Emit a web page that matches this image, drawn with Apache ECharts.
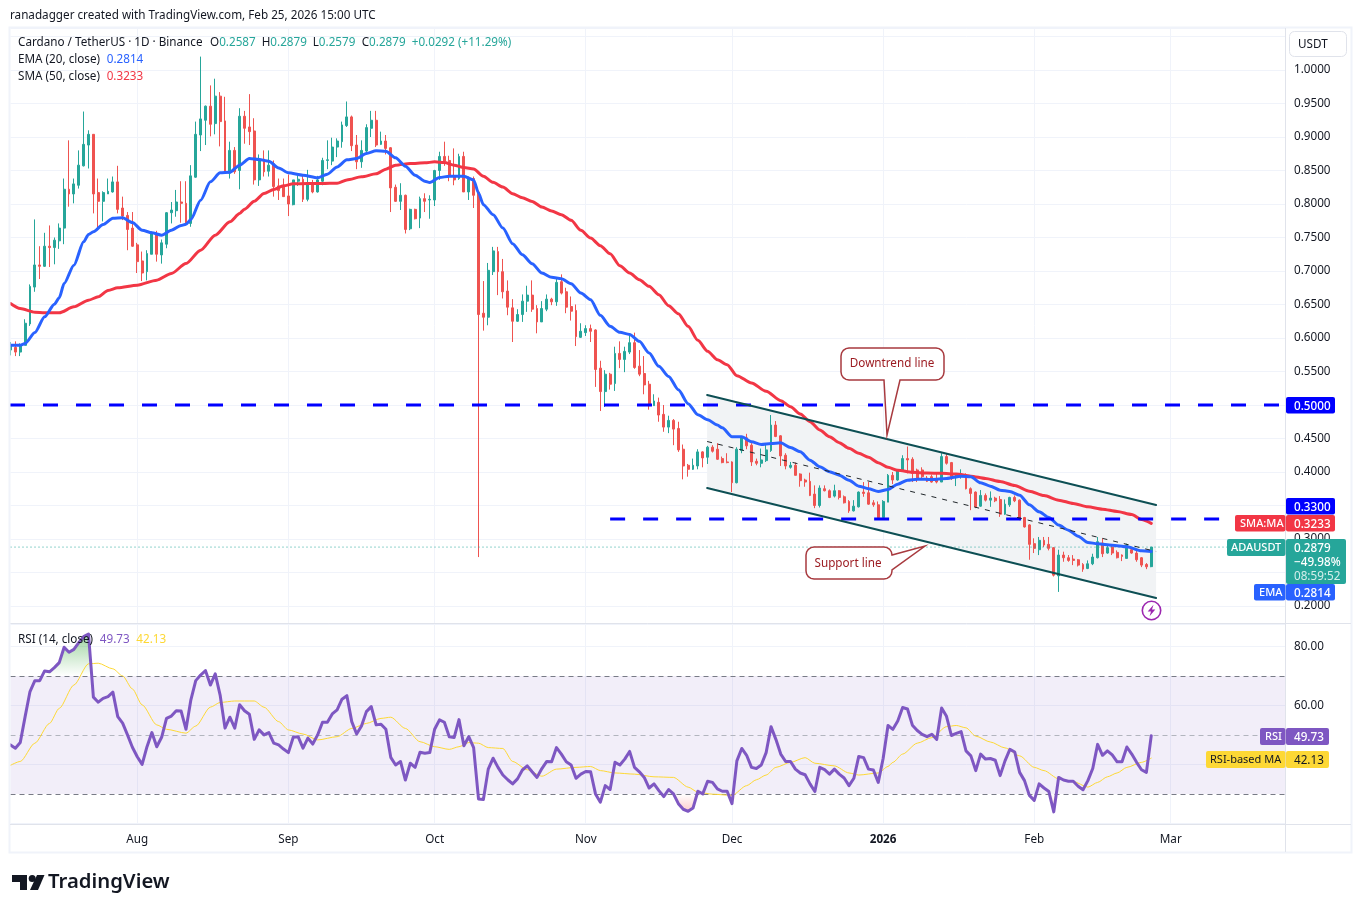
<!DOCTYPE html>
<html><head><meta charset="utf-8"><title>ADAUSDT</title>
<style>html,body{margin:0;padding:0;background:#fff}#c{width:1361px;height:912px}</style>
<script src="https://cdn.jsdelivr.net/npm/echarts@6/dist/echarts.min.js"></script></head>
<body><div id="c"></div>
<script>
// Daily candles, day 0 = 6 Jul 2025, each row is [open, close, low, high]
const candlesJul=[[.582,.589,.574,.594],[.586,.579,.573,.595],[.579,.589,.573,.592],[.589,.622,.589,.628],[.621,.677,.618,.680],[.676,.709,.669,.777],[.709,.707,.688,.737],[.707,.737,.706,.757],[.737,.735,.706,.768],[.735,.746,.710,.750],[.745,.764,.733,.771],[.764,.822,.740,.838],[.822,.815,.796,.895],[.815,.830,.801,.838],[.828,.858,.823,.880],[.857,.889,.856,.938],[.888,.904,.853,.910],[.904,.815,.786,.904],[.817,.804,.761,.838],[.804,.817,.774,.819],[.815,.819,.815,.838],[.818,.833,.817,.841],[.833,.792,.786,.857],[.794,.782,.776,.811],[.783,.762,.731,.788],[.764,.737,.736,.788]];
const candlesAug=[[.739,.714,.697,.742],[.715,.697,.685,.729],[.699,.726,.686,.731],[.725,.756,.725,.759],[.756,.725,.714,.760],[.724,.742,.711,.747],[.740,.787,.734,.788],[.787,.791,.771,.803],[.790,.803,.781,.821],[.803,.801,.772,.834],[.801,.770,.768,.834],[.771,.842,.766,.858],[.840,.904,.839,.923],[.903,.927,.879,1.020],[.925,.946,.888,.947],[.946,.919,.901,.977],[.920,.961,.904,.987],[.961,.923,.886,.967],[.924,.846,.845,.960],[.846,.880,.838,.893],[.880,.848,.845,.885],[.850,.931,.822,.943],[.931,.913,.890,.939],[.915,.908,.888,.964],[.909,.836,.829,.928],[.836,.867,.827,.874],[.867,.848,.841,.880],[.849,.858,.841,.880],[.860,.826,.811,.865],[.827,.820,.806,.838],[.826,.811,.811,.838]];
const candlesSep=[[.812,.800,.782,.844],[.799,.836,.798,.836],[.834,.837,.827,.843],[.837,.807,.803,.843],[.807,.832,.804,.851],[.832,.818,.816,.836],[.818,.836,.817,.842],[.834,.865,.828,.869],[.865,.866,.852,.895],[.864,.885,.858,.899],[.885,.894,.870,.898],[.893,.918,.884,.923],[.917,.930,.915,.953],[.930,.887,.879,.932],[.888,.863,.852,.903],[.863,.880,.854,.895],[.879,.914,.874,.919],[.913,.925,.900,.939],[.925,.888,.885,.939],[.889,.894,.888,.908],[.894,.883,.874,.903],[.884,.824,.788,.885],[.825,.804,.803,.829],[.804,.813,.791,.831],[.813,.762,.756,.814],[.763,.792,.761,.793],[.792,.778,.777,.793],[.779,.808,.764,.811],[.808,.804,.788,.816],[.806,.807,.778,.813]];
const candlesOct=[[.806,.850,.797,.851],[.850,.871,.836,.878],[.871,.864,.857,.893],[.865,.841,.834,.872],[.841,.836,.828,.883],[.838,.871,.836,.875],[.871,.818,.818,.878],[.818,.838,.806,.841],[.838,.813,.794,.841],[.818,.635,.273,.820],[.637,.631,.611,.685],[.631,.701,.619,.712],[.699,.730,.694,.736],[.729,.699,.664,.736],[.699,.669,.659,.718],[.670,.646,.634,.686],[.645,.625,.594,.658],[.625,.635,.624,.643],[.635,.655,.624,.665],[.655,.664,.639,.678],[.664,.643,.639,.686],[.644,.624,.607,.649],[.624,.644,.624,.655],[.643,.658,.640,.665],[.658,.654,.649,.660],[.654,.683,.648,.689],[.684,.667,.665,.695],[.669,.646,.637,.675],[.647,.640,.626,.662],[.641,.602,.588,.650],[.601,.610,.600,.622]];
const candlesNov=[[.608,.614,.603,.619],[.614,.610,.594,.620],[.612,.553,.527,.613],[.555,.520,.491,.566],[.520,.546,.497,.552],[.546,.531,.523,.548],[.532,.577,.521,.587],[.577,.568,.555,.595],[.568,.580,.549,.587],[.579,.593,.576,.604],[.593,.556,.554,.608],[.558,.546,.543,.582],[.547,.530,.516,.573],[.531,.499,.493,.536],[.499,.506,.499,.516],[.504,.485,.475,.511],[.486,.467,.460,.500],[.467,.477,.458,.484],[.477,.464,.440,.479],[.465,.433,.430,.475],[.434,.409,.389,.441],[.410,.404,.393,.412],[.404,.410,.403,.420],[.409,.430,.404,.434],[.430,.421,.407,.431],[.422,.437,.412,.439],[.437,.431,.429,.440],[.434,.419,.418,.443],[.420,.414,.413,.423],[.415,.414,.413,.428]];
const candlesDec=[[.415,.384,.370,.416],[.384,.434,.383,.437],[.432,.451,.428,.453],[.451,.439,.434,.457],[.440,.415,.409,.443],[.416,.413,.410,.420],[.413,.418,.407,.435],[.417,.433,.415,.443],[.432,.470,.430,.485],[.470,.453,.452,.476],[.454,.424,.409,.455],[.425,.409,.404,.428],[.407,.410,.405,.415],[.410,.395,.395,.414],[.397,.387,.378,.398],[.388,.385,.378,.390],[.386,.365,.364,.399],[.367,.350,.346,.380],[.350,.376,.347,.380],[.375,.372,.371,.380],[.372,.362,.361,.374],[.364,.372,.362,.381],[.372,.362,.359,.373],[.363,.354,.353,.365],[.356,.342,.339,.358],[.342,.349,.341,.358],[.348,.370,.347,.371],[.370,.368,.363,.385],[.369,.352,.351,.385],[.354,.351,.348,.358],[.351,.332,.329,.356]];
const candlesJan=[[.332,.356,.332,.358],[.355,.395,.355,.397],[.395,.388,.382,.400],[.388,.403,.387,.404],[.402,.420,.400,.425],[.420,.418,.398,.438],[.419,.398,.385,.422],[.403,.389,.385,.405],[.403,.393,.389,.407],[.391,.386,.385,.394],[.393,.385,.384,.396],[.390,.385,.383,.398],[.385,.423,.385,.428],[.423,.413,.411,.428],[.414,.393,.388,.415],[.394,.396,.379,.398],[.393,.396,.390,.404],[.396,.375,.374,.398],[.375,.368,.343,.377],[.370,.348,.346,.371],[.349,.365,.348,.373],[.365,.358,.356,.368],[.358,.361,.348,.371],[.361,.357,.355,.363],[.359,.337,.333,.364],[.337,.352,.336,.359],[.351,.362,.348,.363],[.362,.357,.355,.365],[.358,.331,.328,.359],[.332,.318,.317,.333],[.321,.292,.269,.322]];
const candlesFeb=[[.293,.286,.279,.301],[.284,.298,.276,.303],[.298,.291,.288,.303],[.292,.286,.283,.303],[.287,.246,.244,.288],[.245,.276,.221,.284],[.276,.272,.266,.281],[.272,.268,.266,.276],[.270,.268,.261,.276],[.269,.261,.259,.270],[.262,.255,.251,.264],[.256,.263,.255,.268],[.263,.273,.261,.278],[.272,.296,.271,.303],[.294,.278,.273,.301],[.279,.287,.278,.291],[.288,.279,.276,.291],[.280,.272,.271,.283],[.276,.274,.267,.277],[.271,.291,.271,.293],[.284,.279,.278,.288],[.279,.269,.266,.283],[.272,.261,.258,.273],[.262,.2585,.255,.264],[.2587,.2879,.2579,.2879]];
// EMA 20 and SMA 50, [day, price]
const ema20=[[0,.5893],[2,.5893],[3,.5918],[5,.6082],[7,.6316],[9,.6505],[10,.66],[11,.6814],[13,.7087],[15,.7435],[16,.7545],[17,.7585],[19,.7694],[21,.7789],[23,.7794],[25,.7724],[27,.7609],[29,.757],[31,.7535],[33,.7609],[35,.7679],[36,.7699],[37,.7769],[39,.8057],[41,.8331],[43,.8465],[45,.8475],[47,.858],[49,.8679],[51,.8664],[53,.8639],[55,.8539],[57,.8465],[60,.843],[63,.839],[65,.8445],[67,.8554],[69,.8659],[71,.8679],[73,.8753],[75,.8793],[77,.8788],[79,.8689],[81,.8564],[83,.843],[85,.834],[86,.8321],[88,.8395],[90,.8415],[93,.8415],[95,.836],[96,.8164],[97,.799],[99,.784],[101,.7641],[103,.7408],[105,.7243],[107,.7109],[109,.697],[111,.6905],[113,.6885],[115,.6811],[117,.6671],[119,.6572],[121,.6338],[123,.6174],[125,.6084],[127,.6054],[129,.595],[131,.5776],[133,.5577],[135,.5427],[137,.5228],[139,.502],[141,.4855],[143,.4781],[145,.47],[146,.466],[148,.4525],[150,.4525],[152,.445],[154,.4411],[156,.4426],[158,.4435],[160,.4366],[162,.4301],[164,.4177],[166,.4077],[168,.4003],[170,.3953],[172,.3878],[174,.3789],[176,.3749],[178,.3709],[180,.3739],[182,.3818],[184,.3878],[186,.3893],[189,.3888],[192,.3903],[195,.3938],[197,.3928],[199,.3838],[201,.3789],[203,.3729],[205,.3709],[207,.3654],[209,.351],[211,.3406],[213,.3321],[215,.3207],[217,.3132],[219,.3042],[221,.2948],[223,.2928],[226,.2908],[229,.2883],[232,.2824],[234,.2814]];
const sma50=[[0,.6515],[2,.644],[5,.6386],[7,.6376],[10,.6376],[13,.6465],[16,.6565],[18,.6614],[20,.6709],[22,.6749],[26,.6789],[30,.6863],[33,.6963],[36,.7112],[39,.7311],[42,.7535],[45,.7734],[47,.7858],[48,.7923],[50,.8042],[52,.8156],[54,.8216],[56,.8271],[58,.8301],[61,.8306],[64,.8306],[67,.8311],[69,.836],[72,.8405],[75,.845],[77,.852],[79,.8579],[82,.8604],[85,.8614],[87,.8629],[89,.8619],[91,.8579],[93,.8544],[95,.8522],[97,.8413],[99,.8323],[101,.8253],[103,.8154],[105,.8094],[107,.8039],[109,.7955],[111,.7895],[113,.784],[115,.7756],[117,.7607],[119,.7492],[121,.7378],[123,.7258],[125,.7079],[127,.697],[129,.687],[131,.6771],[133,.6646],[135,.6482],[137,.6363],[139,.6174],[141,.5965],[143,.5801],[145,.5676],[147,.5602],[149,.5437],[152,.5328],[155,.5204],[158,.5065],[160,.4975],[162,.4866],[164,.4751],[166,.4627],[168,.4527],[170,.4438],[172,.4353],[174,.4279],[176,.4219],[178,.4139],[180,.407],[182,.4025],[185,.3995],[188,.3985],[191,.398],[194,.397],[197,.3938],[200,.3903],[203,.3858],[206,.3799],[209,.3714],[212,.3649],[215,.358],[218,.353],[221,.348],[224,.3445],[227,.3411],[230,.3366],[232,.3291],[234,.3233]];
// RSI (14) one value per day
const rsi14=[46.6,45.5,47.4,56.2,64.7,68.4,68.4,71.7,71.4,72.8,74.5,79.7,78,79,81.3,83.3,84.2,62.8,61.1,62.4,63,64.5,56.2,54,50,45.8,42.6,40,46,50.8,46,49.2,55.6,56.4,58.2,58.1,51.9,61.9,68.4,70.3,71.8,66.9,70.7,63.5,52.3,56,52.3,60.2,58.2,57,48.5,51.7,50,50.8,47.2,46.6,45.2,44,49.2,49.4,45.5,48.9,46.9,50,54.3,54.3,57.1,58.5,62.1,63.3,54.5,50.3,53,57.9,59.6,53.4,53.6,51.9,42.4,39.8,41,34.7,40.4,39,44.1,43.8,44,51.9,55.1,54.3,49.4,49.1,55.2,46.3,49.4,45.7,28.3,28.1,38.4,42.1,39,36.4,34.8,33.4,35.1,38.1,39.5,37.5,35.6,38.6,41,40.9,45.7,43.5,40.9,39.8,35.3,36.7,37.6,37.5,30,27.2,32.8,31.5,40.7,39.8,41.8,44.4,39,37.5,35.6,32,33.4,31.1,29.1,31.5,30,26.7,24.8,24.1,25.2,30.9,30,34.3,33.9,31.7,30.9,30.9,26.7,41.2,45.4,43.1,39,38.6,39.8,44,52.8,48.5,43.5,41,41,38.4,37.1,36.5,33.4,30.8,39,38.2,36.7,38.4,36.7,35.4,32.8,35.3,42.7,42.3,38.4,38.1,33.9,42,53.2,51.9,54.7,59.3,58.8,53.3,51.5,50.2,49.4,50.2,48.5,59.1,56.3,49.8,50.5,51.1,44.6,42.9,37.9,43.5,41.8,42,41.4,36.2,41.2,45.1,44.2,37.3,34.5,29.5,27.8,33.4,32,30.8,23.9,35.6,34.7,34.3,34.3,32.6,31.4,34.5,38.6,46.8,43.1,44.6,43.2,40.9,40.9,45.9,43.5,40.7,38.2,37.3,49.73];
// RSI-based MA, [day, value]
const rsiMA=[[0,39.7],[2,41],[5,47.2],[8,53.9],[10,59],[13,66.9],[16,74.1],[18,74.3],[21,72.4],[23,70],[25,65.6],[27,60.2],[30,53.4],[32,51.9],[36,50.6],[38,53],[41,59.4],[43,61],[46,61.5],[50,61.5],[52,59.4],[55,54.5],[57,51.7],[60,50.3],[63,48.3],[67,49.4],[70,52.2],[73,53.9],[76,55.6],[78,56],[81,52.2],[84,47.7],[87,46],[90,45.1],[92,46],[94,47.4],[96,47.2],[98,45.7],[101,45.4],[103,41],[106,38.2],[109,36],[112,38.4],[116,39],[119,39.3],[121,37.9],[124,37.1],[128,36.7],[132,35.8],[136,35.6],[139,32.3],[141,30.6],[144,29.9],[148,29.5],[151,32.8],[153,34.8],[155,36.4],[157,39],[160,40.7],[163,42.3],[165,40.4],[169,39.5],[172,37.1],[174,36.4],[178,37.1],[180,39.3],[181,40.7],[183,43.5],[186,47.2],[189,49.1],[192,52.8],[194,53.2],[196,52.4],[198,49.6],[201,47.6],[204,45.6],[207,42.9],[210,39],[212,37.9],[215,35.1],[218,34.2],[221,32.3],[223,33.9],[225,35.8],[227,37.1],[229,39],[232,40.7],[234,42.13]];
// Drawn levels and channel, in day / price
const resistance50=[[-0.1,.5],[261.4,.5]];
const level33=[[123,.33],[250,.33]];
const channelTop=[[142.9,.5149],[235,.3507]];
const channelBottom=[[142.9,.3761],[235,.2119]];
const channelMid=[[142.9,.4455],[235,.2813]];
const lastPrice=.2879;
// Tick labels
const monthDays=[26,57,87,118,148,179,210,238];
const monthNames=['Aug','Sep','Oct','Nov','Dec','2026','Feb','Mar'];
const priceTicks=[.2,.25,.3,.35,.4,.45,.5,.55,.6,.65,.7,.75,.8,.85,.9,.95,1];
const rsiTicks=[40,60,80];

const candles=[...candlesJul,...candlesAug,...candlesSep,...candlesOct,...candlesNov,...candlesDec,...candlesJan,...candlesFeb];
const UI='"Noto Sans",sans-serif';
const FS=11.7;
const GRID='#f0f3fa',AX='#e0e3eb',TXT='#131722',UP='#26a69a',DN='#ef5350',BLUE='#2962ff',RED='#f23645',PUR='#7e57c2',YEL='#fdd835';
const XMAX=261.436;

const lineS=(name,data,color,width,extra,grid)=>Object.assign({name,type:'line',data,xAxisIndex:grid||0,yAxisIndex:grid||0,showSymbol:false,symbol:'none',silent:true,lineStyle:{color,width,cap:'round',join:'round'},z:5},extra||{});

const tag=(x,y,w,h,fill)=>({type:'rect',z:120,shape:{x,y,width:w,height:h,r:2},style:{fill}});
const tagText=(x,y,text,color,w,size)=>({type:'text',z:121,x,y:y+1.3,style:{text,fill:color,font:(w||'500')+' '+(size||FS)+'px '+UI,textVerticalAlign:'middle'}});
const plainText=(x,y,text)=>({type:'text',z:110,x,y,style:{text,fill:TXT,font:FS+'px '+UI,textVerticalAlign:'middle'}});
const rule=(x1,y1,x2,y2)=>({type:'line',z:95,shape:{x1,y1,x2,y2},style:{stroke:AX,lineWidth:1}});

// Rounded speech bubble outline with a pointer spliced into it
function bubble(x0,y0,x1,y1,r,insertAfterCorner,pointer){
  const cs=[[x1-r,y0+r,-90],[x1-r,y1-r,0],[x0+r,y1-r,90],[x0+r,y0+r,180]];
  const pts=[];
  cs.forEach((c,k)=>{
    for(let a=0;a<=4;a++){const t=(c[2]+a*22.5)*Math.PI/180;pts.push([c[0]+r*Math.cos(t),c[1]+r*Math.sin(t)]);}
    if(k===insertAfterCorner)pointer.forEach(p=>pts.push(p));
  });
  return pts;
}

const legendRich={a:{fill:TXT,font:FS+'px '+UI},g:{fill:UP,font:FS+'px '+UI},b:{fill:BLUE,font:FS+'px '+UI},r:{fill:RED,font:FS+'px '+UI},p:{fill:PUR,font:FS+'px '+UI},y:{fill:YEL,font:FS+'px '+UI}};
const legendText=(x,y,text)=>({type:'text',z:110,x,y,style:{text,textVerticalAlign:'middle',rich:legendRich}});

const graphic=[
  {type:'rect',z:90,shape:{x:9.5,y:27.5,width:1342,height:825},style:{fill:'none',stroke:GRID,lineWidth:2},silent:true},
  rule(1285.5,28,1285.5,852),rule(1285.5,623.5,1351,623.5),rule(10,824.5,1351,824.5),
  plainText(10,16,'ranadagger created with TradingView.com, Feb 25, 2026 15:00 UTC'),
  legendText(18,42.5,'{a|Cardano / TetherUS · 1D · Binance}'),
  legendText(210,42.5,'{a|O}{g|0.2587}'),legendText(261.7,42.5,'{a|H}{g|0.2879}'),legendText(312.7,42.5,'{a|L}{g|0.2579}'),legendText(361.7,42.5,'{a|C}{g|0.2879}'),legendText(411.7,42.5,'{g|+0.0292 (+11.29%)}'),
  legendText(18,59.5,'{a|EMA (20, close)}  {b|0.2814}'),
  legendText(18,76.5,'{a|SMA (50, close)}  {r|0.3233}'),
  legendText(18,639.5,'{a|RSI (14, close)}  {p|49.73}  {y|42.13}'),
  // USDT button
  {type:'rect',z:110,shape:{x:1289.5,y:31.5,width:57,height:25,r:5},style:{fill:'#fff',stroke:AX,lineWidth:1}},
  plainText(1298,45,'USDT'),
  // Callouts
  {type:'polygon',z:100,shape:{points:bubble(841,348,944,380,8,1,[[900,380],[887,435],[884,380]])},style:{fill:'#fff',stroke:'#a83a3f',lineWidth:1.5}},
  {type:'text',z:101,x:892,y:363.5,style:{text:'Downtrend line',fill:'#9c1c22',font:'11.7px '+UI,textAlign:'center',textVerticalAlign:'middle'}},
  {type:'polygon',z:100,shape:{points:bubble(806,547,892,579,8,0,[[892,555],[925,546],[892,570]])},style:{fill:'#fff',stroke:'#a83a3f',lineWidth:1.5}},
  {type:'text',z:101,x:848,y:563.5,style:{text:'Support line',fill:'#9c1c22',font:'11.7px '+UI,textAlign:'center',textVerticalAlign:'middle'}},
  // Flash marker
  {type:'circle',z:100,shape:{cx:1151.5,cy:610.5,r:9.2},style:{fill:'#fff',stroke:'#9c27b0',lineWidth:1.6}},
  {type:'polygon',z:101,shape:{points:[[1153.5,604.8],[1147.7,611.6],[1151,611.6],[1149.6,616.2],[1155.3,609.4],[1152,609.4]]},style:{fill:'#9c27b0'}},
  // Price tags
  tag(1286,397,49,16.5,'#0000ff'),tagText(1294,405,'0.5000','#fff'),
  tag(1286,498,49,16.5,'#0000ff'),tagText(1294,506,'0.3300','#fff'),
  tag(1235,515,50.5,16.5,RED),tagText(1240,523,'SMA:MA','#fff','500',11),
  tag(1286,515,49,16.5,RED),tagText(1294,523,'0.3233','#fff'),
  tag(1227,539,58.5,17,UP),tagText(1231,547,'ADAUSDT','#fff','500',11),
  tag(1286,539,60,45,UP),tagText(1294,547,'0.2879','#fff'),tagText(1294,561.5,'−49.98%','#fff'),
  tagText(1294,575.5,'08:59:52','#d4eeeb','400'),
  tag(1254,584,31.5,16.5,BLUE),tagText(1259,592,'EMA','#fff','500',11),
  tag(1286,584,49,16.5,BLUE),tagText(1294,592,'0.2814','#fff'),
  tag(1260,728,25.5,17,PUR),tagText(1265,736,'RSI','#fff','500',11),
  tag(1286,728,43,17,PUR),tagText(1294,736,'49.73','#fff'),
  tag(1206,751,79.5,17,YEL),tagText(1210,759,'RSI-based MA',TXT,'400',11),
  tag(1286,751,43,17,YEL),tagText(1294,759,'42.13',TXT,'400'),
  // TradingView logo
  {type:'polygon',z:110,shape:{points:[[12,875],[27,875],[27,890],[20,890],[20,882],[12,882]]},style:{fill:'#131722'}},
  {type:'circle',z:110,shape:{cx:32.2,cy:878.5,r:3.5},style:{fill:'#131722'}},
  {type:'polygon',z:110,shape:{points:[[37,875],[44.5,875],[38,890],[30,890]]},style:{fill:'#131722'}},
  {type:'text',z:110,x:48,y:882.5,style:{text:'TradingView',fill:'#131722',font:'600 20.3px '+UI,textVerticalAlign:'middle'}}
];

const xAxisCommon=(gridIndex,showLabel)=>({type:'value',gridIndex,min:0,max:XMAX,
  axisLine:{show:true,onZero:false,lineStyle:{color:AX,width:1}},
  axisTick:{show:false,customValues:monthDays},
  splitLine:{show:true,lineStyle:{color:GRID,width:1}},
  axisLabel:{show:showLabel,customValues:monthDays,margin:9.5,fontFamily:UI,fontSize:FS,color:TXT,
    formatter:v=>{const n=monthNames[monthDays.indexOf(v)];return n==='2026'?'{b|2026}':n;},
    rich:{b:{fontFamily:UI,fontSize:FS,fontWeight:700,color:TXT}}}});
const yAxisCommon=(gridIndex,min,max,step,ticks,digits)=>({type:'value',gridIndex,position:'right',min,max,minInterval:step,maxInterval:step,scale:true,
  axisLine:{show:true,onZero:false,lineStyle:{color:AX}},axisTick:{show:false},splitLine:{lineStyle:{color:GRID}},
  axisLabel:{customValues:ticks,margin:9,padding:[5,0,0,0],fontFamily:UI,fontSize:FS,color:TXT,formatter:v=>v.toFixed(digits)}});

const option={animation:false,backgroundColor:'#fff',tooltip:{show:false},
  grid:[{left:10.5,top:28,width:1274.5,height:595,containLabel:false},{left:10.5,top:624,width:1274.5,height:200,containLabel:false}],
  xAxis:[xAxisCommon(0,false),xAxisCommon(1,true)],
  yAxis:[yAxisCommon(0,.1746,1.0627,.05,priceTicks,4),yAxisCommon(1,19.8,87.6,20,rsiTicks,2)],
  series:[
    {name:'channel fill',type:'custom',xAxisIndex:0,yAxisIndex:0,z:1,silent:true,clip:true,
     data:[[...channelTop[0],...channelBottom[0],...channelTop[1],...channelBottom[1]]],
     encode:{x:[0,2,4,6],y:[1,3,5,7]},
     renderItem:(p,api)=>{const pts=[api.coord([api.value(0),api.value(1)]),api.coord([api.value(4),api.value(5)]),api.coord([api.value(6),api.value(7)]),api.coord([api.value(2),api.value(3)])];
       return {type:'polygon',shape:{points:pts},style:{fill:'#f1f3f5'}};}},
    {name:'ADAUSDT',type:'candlestick',xAxisIndex:0,yAxisIndex:0,z:3,silent:true,barWidth:2.4,
     data:candles.map((c,i)=>[i,c[0],c[1],c[2],c[3]]),
     itemStyle:{color:UP,color0:DN,borderColor:UP,borderColor0:DN,borderWidth:1}},
    lineS('last price',[[0,lastPrice],[XMAX,lastPrice]],UP,1,{lineStyle:{color:UP,width:1,type:[1,3]},z:4}),
    lineS('SMA 50',sma50,RED,3,{smooth:.25,smoothMonotone:'x',z:6}),
    lineS('EMA 20',ema20,BLUE,3,{smooth:.25,smoothMonotone:'x',z:7}),
    lineS('Resistance 0.50',resistance50,'#0000ff',3,{lineStyle:{color:'#0000ff',width:3,type:[15,18]},z:8}),
    lineS('Level 0.33',level33,'#0000ff',3,{lineStyle:{color:'#0000ff',width:3,type:[15,18]},z:8}),
    lineS('Channel top',channelTop,'#0d4f54',2,{z:9}),
    lineS('Channel bottom',channelBottom,'#0d4f54',2,{z:9}),
    lineS('Channel mid',channelMid,'#20262a',1,{lineStyle:{color:'#20262a',width:1,type:[5,6]},z:9}),
    // RSI pane
    lineS('above 70',rsi14.map((v,i)=>[i,Math.max(v,70)]),'#4caf50',0,{lineStyle:{width:0},z:2,
      areaStyle:{origin:70,opacity:1,color:{type:'linear',x:0,y:0,x2:0,y2:1,colorStops:[{offset:0,color:'rgba(76,175,80,.55)'},{offset:1,color:'rgba(76,175,80,0)'}]}}},1),
    lineS('below 30',rsi14.map((v,i)=>[i,Math.min(v,30)]),'#ff5252',0,{lineStyle:{width:0},z:2,
      areaStyle:{origin:30,opacity:1,color:{type:'linear',x:0,y:0,x2:0,y2:1,colorStops:[{offset:0,color:'rgba(255,82,82,0)'},{offset:1,color:'rgba(255,82,82,.3)'}]}}},1),
    lineS('RSI MA',rsiMA,YEL,1,{smooth:.25,smoothMonotone:'x',z:5},1),
    lineS('RSI',rsi14.map((v,i)=>[i,v]),PUR,3,{z:6,
      markArea:{silent:true,itemStyle:{color:'rgba(126,87,194,.1)'},data:[[{yAxis:30},{yAxis:70}]]},
      markLine:{silent:true,symbol:'none',animation:false,label:{show:false},
        data:[{yAxis:70,lineStyle:{color:'#787b86',type:[5,4],width:1}},{yAxis:50,lineStyle:{color:'#b2b5be',type:[5,4],width:1}},{yAxis:30,lineStyle:{color:'#787b86',type:[5,4],width:1}}]}},1)
  ],
  graphic:{elements:graphic}
};
const chart=echarts.init(document.getElementById('c'),null,{renderer:'canvas',width:1361,height:912});
chart.setOption(option);
</script></body></html>
